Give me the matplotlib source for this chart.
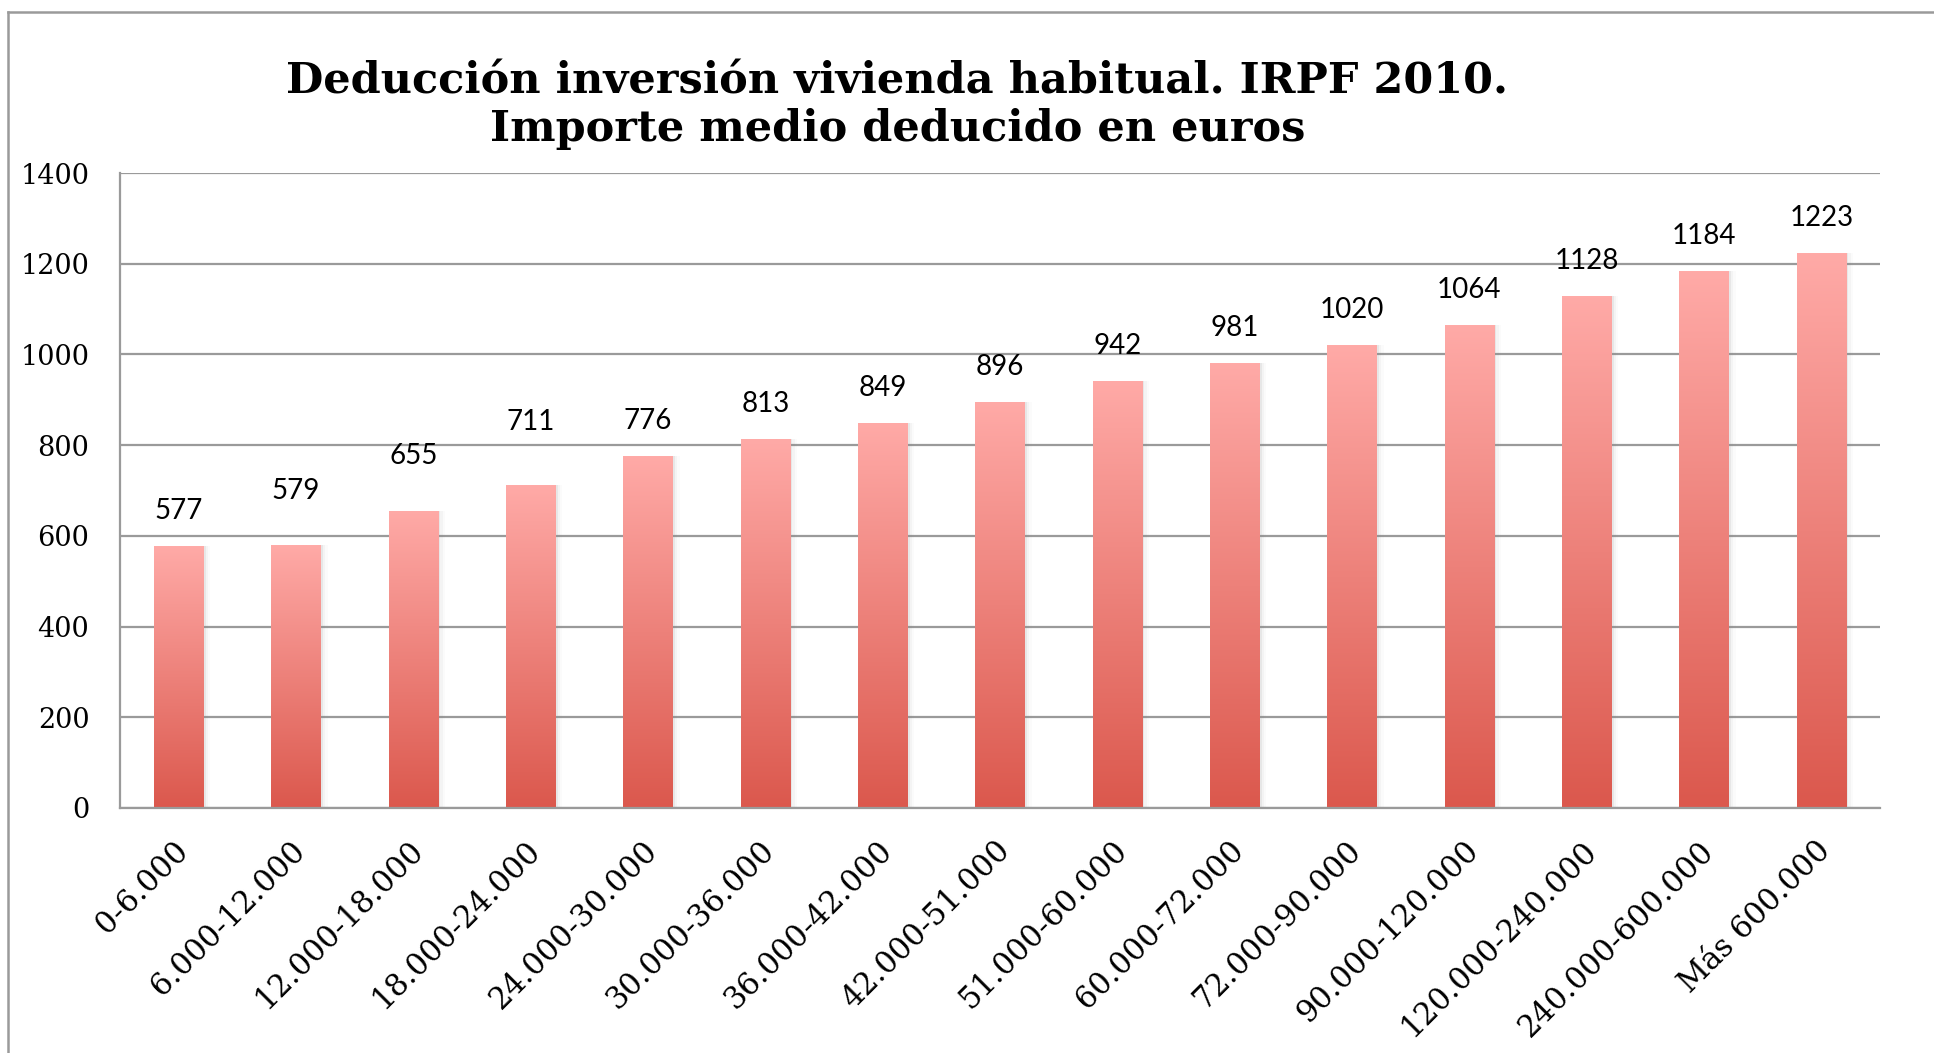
"""
Deducción inversión vivienda habitual, IRPF 2010 - bar chart with gradient bars.
"""
import numpy as np
import matplotlib
matplotlib.use("Agg")
import matplotlib.pyplot as plt
import matplotlib.transforms as mtransforms
from matplotlib.colors import LinearSegmentedColormap
from matplotlib.lines import Line2D

# data
tramos = ["0-6.000", "6.000-12.000", "12.000-18.000", "18.000-24.000",
          "24.000-30.000", "30.000-36.000", "36.000-42.000", "42.000-51.000",
          "51.000-60.000", "60.000-72.000", "72.000-90.000", "90.000-120.000",
          "120.000-240.000", "240.000-600.000", "Más 600.000"]
importe = [577, 579, 655, 711, 776, 813, 849, 896, 942, 981, 1020, 1064,
           1128, 1184, 1223]
yticks = [0, 200, 400, 600, 800, 1000, 1200, 1400]

# label offsets above each bar top (pixels), Excel staggered a few of them
label_off = [35, 54, 55, 63, 35, 35, 35, 35, 35, 35, 35, 35, 35, 35, 35]

SERIF = "DejaVu Serif"
GRID = "#9a9a9a"

fig = plt.figure(figsize=(19.34, 10.53), dpi=100)
ax = fig.add_axes([0.0620, 0.2327, 0.9101, 0.6030])

cmap = LinearSegmentedColormap.from_list("bar", ["#db584d", "#ffaaa7"])
grad = np.linspace(0, 1, 256).reshape(-1, 1)

x = np.arange(len(tramos))
width = 0.42
bars = ax.bar(x, importe, width=width, color="none", zorder=3)

for b in bars:
    x0, w, h = b.get_x(), b.get_width(), b.get_height()
    # soft shadow to the right of the bar
    for k, a in enumerate([0.10, 0.06, 0.03]):
        ax.bar(x0 + w / 2 + 0.02 * (k + 1), h, width=w, color="#888888",
               alpha=a, zorder=2, linewidth=0)
    im = ax.imshow(grad, extent=[x0, x0 + w, 0, h], origin="lower",
                   aspect="auto", cmap=cmap, zorder=3)
    im.set_clip_path(b)

for xi, v, off in zip(x, importe, label_off):
    ax.annotate(str(v), (xi, v), xytext=(0, off * 0.72),
                textcoords="offset points", ha="center", va="center",
                fontsize=20, family="Lato", color="black", zorder=5)

ax.set_xlim(-0.5, len(tramos) - 0.5)
ax.set_ylim(0, 1400)
ax.set_yticks(yticks)
ax.set_yticklabels([str(t) for t in yticks], family=SERIF, fontsize=19.5)
ax.set_xticks(x)
ax.set_xticklabels(tramos, family=SERIF, fontsize=22, rotation=45,
                   ha="right", va="top", rotation_mode="anchor")
ax.tick_params(axis="both", length=0)
ax.tick_params(axis="y", pad=22)
ax.tick_params(axis="x", pad=19.5)
shift = mtransforms.ScaledTranslation(-6 / 100, 0, fig.dpi_scale_trans)
for lbl in ax.get_xticklabels():
    lbl.set_transform(lbl.get_transform() + shift)

ax.grid(axis="y", color=GRID, linewidth=1.6, zorder=1)
ax.set_axisbelow(True)
for s in ["top", "right"]:
    ax.spines[s].set_visible(False)
for s in ["left", "bottom"]:
    ax.spines[s].set_color(GRID)
    ax.spines[s].set_linewidth(1.6)
    ax.spines[s].set_zorder(4)

fig.text(0.464, 0.900,
         "Deducción inversión vivienda habitual. IRPF 2010.\n"
         "Importe medio deducido en euros",
         ha="center", va="center", family=SERIF, fontweight="bold",
         fontsize=31, linespacing=1.17)

# outer chart frame (left + top edges visible)
fig.add_artist(Line2D([8 / 1934, 8 / 1934], [0, 1 - 12 / 1053],
                      color=GRID, lw=1.8, transform=fig.transFigure))
fig.add_artist(Line2D([8 / 1934, 1], [1 - 12 / 1053, 1 - 12 / 1053],
                      color=GRID, lw=1.8, transform=fig.transFigure))

fig.savefig("out.png", dpi=100)
